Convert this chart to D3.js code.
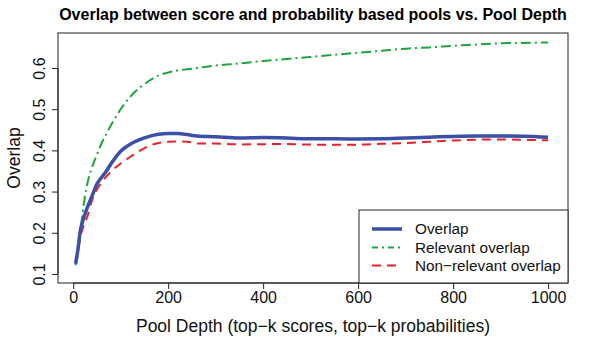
<!DOCTYPE html>
<html>
<head>
<meta charset="utf-8">
<script src="https://cdn.jsdelivr.net/npm/d3@7"></script>
<style>
  html, body { margin: 0; padding: 0; background: #fff; }
  svg { display: block; font-family: "Liberation Sans", Arial, Helvetica, sans-serif; }
</style>
</head>
<body>
<svg id="chart" width="603" height="337"></svg>
<script>
// Pool depths (top-k) at which overlap was measured
const depths = [5, 10, 15, 20, 30, 40, 50, 60, 70, 80, 100, 120, 140, 160, 180, 200, 220, 240, 260,
  300, 350, 400, 450, 500, 550, 600, 650, 700, 750, 800, 850, 900, 950, 1000];

const overlap = [0.125, 0.16, 0.205, 0.228, 0.262, 0.29, 0.318, 0.335, 0.35, 0.368, 0.398, 0.415, 0.426,
  0.434, 0.439, 0.441, 0.441, 0.4385, 0.435, 0.433, 0.43, 0.431, 0.43, 0.428, 0.428, 0.4275, 0.428,
  0.43, 0.432, 0.434, 0.435, 0.435, 0.4345, 0.432];

const relevantOverlap = [0.121, 0.15, 0.2, 0.25, 0.32, 0.36, 0.39, 0.418, 0.44, 0.462, 0.5, 0.53, 0.552,
  0.569, 0.582, 0.589, 0.594, 0.597, 0.6, 0.606, 0.611, 0.617, 0.622, 0.627, 0.632, 0.637, 0.642,
  0.647, 0.65, 0.654, 0.657, 0.66, 0.661, 0.662];

const nonRelevantOverlap = [0.125, 0.155, 0.19, 0.21, 0.24, 0.28, 0.305, 0.322, 0.337, 0.349, 0.368, 0.384,
  0.399, 0.411, 0.418, 0.421, 0.4215, 0.421, 0.417, 0.4165, 0.4145, 0.415, 0.4155, 0.414, 0.4137,
  0.414, 0.416, 0.418, 0.421, 0.424, 0.426, 0.4265, 0.4255, 0.4243];

const xTicks = [0, 200, 400, 600, 800, 1000];
const yTicks = [0.1, 0.2, 0.3, 0.4, 0.5, 0.6];

const seriesNames = ["Overlap", "Relevant overlap", "Non\u2212relevant overlap"];
const seriesValues = [overlap, relevantOverlap, nonRelevantOverlap];
const seriesColors = ["#3b4fa6", "#1ea43f", "#ea2228"];
const seriesWidths = [3.5, 2, 2];
const seriesDashes = [null, "10,4,2,4", "9,6"];

const svg = d3.select("#chart");
const plot = { left: 58, right: 568, top: 33, bottom: 283 };

const x = d3.scaleLinear().domain([-32, 1042]).range([plot.left, plot.right]);
const y = d3.scaleLinear().domain([0.078, 0.685]).range([plot.bottom, plot.top]);

// Title
svg.append("text")
  .attr("x", (plot.left + plot.right) / 2).attr("y", 19.5)
  .attr("text-anchor", "middle")
  .attr("font-size", 16).attr("font-weight", "bold")
  .text("Overlap between score and probability based pools vs. Pool Depth");

// Series lines
svg.append("defs").append("clipPath").attr("id", "plotclip")
  .append("rect").attr("x", plot.left).attr("y", plot.top)
  .attr("width", plot.right - plot.left).attr("height", plot.bottom - plot.top);

const line = d3.line().x(d => x(d[0])).y(d => y(d[1])).curve(d3.curveMonotoneX);
const order = [1, 2, 0];
order.forEach(i => {
  svg.append("path")
    .datum(depths.map((dp, j) => [dp, seriesValues[i][j]]))
    .attr("fill", "none")
    .attr("stroke", seriesColors[i])
    .attr("stroke-width", seriesWidths[i])
    .attr("stroke-dasharray", seriesDashes[i])
    .attr("stroke-linejoin", "round")
    .attr("clip-path", "url(#plotclip)")
    .attr("d", line);
});

// Axes
const xAxis = svg.append("g")
  .attr("transform", `translate(0,${plot.bottom})`)
  .call(d3.axisBottom(x).tickValues(xTicks).tickSize(6).tickPadding(3).tickFormat(d3.format("d")));
xAxis.select(".domain").attr("d", `M${x(0)},0H${x(1000)}`).attr("stroke", "#222");
xAxis.selectAll(".tick line").attr("stroke", "#222");
xAxis.selectAll(".tick text").attr("font-size", 16).attr("fill", "#111")
  .attr("font-family", "Liberation Sans, Arial, sans-serif");

const yAxis = svg.append("g")
  .attr("transform", `translate(${plot.left},0)`)
  .call(d3.axisLeft(y).tickValues(yTicks).tickSize(6).tickFormat(d3.format(".1f")));
yAxis.select(".domain").attr("d", `M0,${y(0.1)}V${y(0.6)}`).attr("stroke", "#222");
yAxis.selectAll(".tick line").attr("stroke", "#222");
yAxis.selectAll(".tick text")
  .attr("font-size", 16).attr("fill", "#111")
  .attr("font-family", "Liberation Sans, Arial, sans-serif")
  .attr("x", null).attr("dy", null)
  .attr("text-anchor", "middle")
  .attr("transform", "translate(-13,0) rotate(-90)");

// Plot frame
svg.append("rect")
  .attr("x", plot.left).attr("y", plot.top)
  .attr("width", plot.right - plot.left).attr("height", plot.bottom - plot.top)
  .attr("fill", "none").attr("stroke", "#222").attr("stroke-width", 1);

// Axis titles
svg.append("text")
  .attr("x", (plot.left + plot.right) / 2).attr("y", 332)
  .attr("text-anchor", "middle").attr("font-size", 17.5).attr("fill", "#111")
  .text("Pool Depth (top\u2212k scores, top\u2212k probabilities)");

svg.append("text")
  .attr("transform", `translate(20,${(plot.top + plot.bottom) / 2}) rotate(-90)`)
  .attr("text-anchor", "middle").attr("font-size", 17.5).attr("fill", "#111")
  .text("Overlap");

// Legend
const legend = { left: 359, top: 210, right: plot.right, bottom: plot.bottom };
svg.append("rect")
  .attr("x", legend.left).attr("y", legend.top)
  .attr("width", legend.right - legend.left).attr("height", legend.bottom - legend.top)
  .attr("fill", "#fff").attr("stroke", "#222").attr("stroke-width", 1);

const legendRows = [229, 247.5, 265.5];
seriesNames.forEach((name, i) => {
  svg.append("line")
    .attr("x1", 372).attr("x2", 402)
    .attr("y1", legendRows[i]).attr("y2", legendRows[i])
    .attr("stroke", seriesColors[i]).attr("stroke-width", seriesWidths[i])
    .attr("stroke-dasharray", i === 1 ? "6,4,2,4" : seriesDashes[i]);
  svg.append("text")
    .attr("x", 415).attr("y", legendRows[i]).attr("dy", "0.35em")
    .attr("font-size", 15.3).attr("fill", "#111")
    .text(name);
});
</script>
</body>
</html>
